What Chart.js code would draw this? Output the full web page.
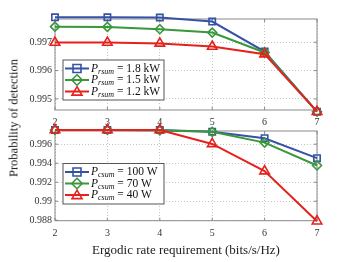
<!DOCTYPE html>
<html>
<head>
<meta charset="utf-8">
<script src="https://cdn.jsdelivr.net/npm/chart.js@4.4.1/dist/chart.umd.min.js"></script>
<style>
body { margin: 0; background: #fff; }
#wrap { position: relative; width: 349px; height: 262px; font-family: 'Liberation Serif', serif; }
canvas { position: absolute; left: 0; }
#ylab { position: absolute; left: 14px; top: 118px; transform: translate(-50%, -50%) rotate(-90deg);
        white-space: nowrap; font-size: 12.5px; color: #222; }
</style>
</head>
<body>
<div id="wrap">
  <canvas id="topCanvas" width="349" height="130" style="top:0"></canvas>
  <canvas id="botCanvas" width="349" height="142" style="top:120px"></canvas>
  <div id="ylab">Probability of detection</div>
</div>
<script>
// rate requirement (bits/s/Hz)
const rates = [2, 3, 4, 5, 6, 7];

// upper panel: P_rsum
const pr18 = [0.99788, 0.99788, 0.99787, 0.99773, 0.99667, 0.99455];
const pr15 = [0.99755, 0.99754, 0.99746, 0.99734, 0.99664, 0.99455];
const pr12 = [0.99699, 0.99699, 0.99696, 0.99685, 0.99658, 0.99455];

// lower panel: P_csum
const pc100 = [0.9975, 0.9975, 0.9975, 0.99732, 0.99663, 0.99453];
const pc70  = [0.9975, 0.9975, 0.99745, 0.9973, 0.99617, 0.99376];
const pc40  = [0.9975, 0.9975, 0.9975, 0.99603, 0.99317, 0.9879];

const xTicks = [2, 3, 4, 5, 6, 7];
const topYTicks = [0.995, 0.996, 0.997];
const botYTicks = [0.988, 0.99, 0.992, 0.994, 0.996];

const BLUE = '#3552a8', GREEN = '#3a973a', RED = '#e6211c';
const FONT = "'Liberation Serif', serif";

function marker(ctx, style, x, y, r) {
  ctx.beginPath();
  if (style === 'rect') {
    ctx.rect(x - r, y - r, 2 * r, 2 * r);
  } else if (style === 'rectRot') {
    ctx.moveTo(x, y - r * 1.3); ctx.lineTo(x + r * 1.3, y);
    ctx.lineTo(x, y + r * 1.3); ctx.lineTo(x - r * 1.3, y); ctx.closePath();
  } else {
    ctx.moveTo(x, y - r * 1.2); ctx.lineTo(x + r * 1.25, y + r * 0.9);
    ctx.lineTo(x - r * 1.25, y + r * 0.9); ctx.closePath();
  }
  ctx.stroke();
}

const framePlugin = {
  id: 'frame',
  beforeDatasetsDraw(chart) {
    const { ctx, chartArea: a, scales } = chart;
    ctx.save();
    ctx.strokeStyle = '#8a8a8a';
    ctx.lineWidth = 1;
    ctx.strokeRect(a.left, a.top, a.right - a.left, a.bottom - a.top);
    ctx.beginPath();
    scales.x.ticks.forEach(t => {
      const px = scales.x.getPixelForValue(t.value);
      ctx.moveTo(px, a.bottom); ctx.lineTo(px, a.bottom - 3);
      ctx.moveTo(px, a.top); ctx.lineTo(px, a.top + 3);
    });
    scales.y.ticks.forEach(t => {
      const py = scales.y.getPixelForValue(t.value);
      ctx.moveTo(a.left, py); ctx.lineTo(a.left + 3, py);
      ctx.moveTo(a.right, py); ctx.lineTo(a.right - 3, py);
    });
    ctx.stroke();
    ctx.restore();
  },
  afterDraw(chart, args, opts) {
    if (!opts.items) return;
    const ctx = chart.ctx;
    ctx.save();
    ctx.fillStyle = '#fff';
    ctx.fillRect(opts.x, opts.y, opts.w, opts.h);
    ctx.strokeStyle = '#555';
    ctx.lineWidth = 1;
    ctx.strokeRect(opts.x, opts.y, opts.w, opts.h);
    opts.items.forEach((it, i) => {
      const cy = opts.y + 8.5 + i * 11.5;
      ctx.strokeStyle = it.color;
      ctx.lineWidth = 2;
      ctx.beginPath();
      ctx.moveTo(opts.x + 2, cy); ctx.lineTo(opts.x + 26, cy);
      ctx.stroke();
      ctx.lineWidth = 1.6;
      marker(ctx, it.style, opts.x + 14, cy, 4);
      ctx.fillStyle = '#111';
      ctx.textBaseline = 'middle';
      let tx = opts.x + 28;
      ctx.font = 'italic 11.5px ' + FONT;
      ctx.fillText('P', tx, cy);
      tx += ctx.measureText('P').width;
      ctx.font = 'italic 8px ' + FONT;
      ctx.fillText(it.sub, tx, cy + 3);
      tx += ctx.measureText(it.sub).width;
      ctx.font = '11.5px ' + FONT;
      ctx.fillText(' = ' + it.value, tx, cy);
    });
    ctx.restore();
  }
};

function series(label, vals, color, style, order) {
  return {
    label: label,
    data: rates.map((r, i) => ({ x: r, y: vals[i] })),
    borderColor: color,
    backgroundColor: 'rgba(0,0,0,0)',
    borderWidth: 2,
    pointStyle: style,
    pointRadius: style === 'triangle' ? 5.5 : 4.5,
    pointBorderWidth: 1.6,
    pointBackgroundColor: 'rgba(0,0,0,0)',
    clip: false,
    order: order
  };
}

function axisOpts(ticksArr, extra) {
  return Object.assign({
    type: 'linear',
    afterBuildTicks: s => { s.ticks = ticksArr.map(v => ({ value: v })); },
    grid: { color: '#c4c4c4', drawTicks: false, lineWidth: 1 },
    border: { display: false, dash: [1, 2] },
    ticks: { color: '#333', font: { family: FONT, size: 10 } }
  }, extra);
}

const yFmt = v => String(+v.toFixed(3));

new Chart(document.getElementById('topCanvas'), {
  type: 'line',
  data: {
    datasets: [
      series('P_rsum = 1.8 kW', pr18, BLUE, 'rect', 2),
      series('P_rsum = 1.5 kW', pr15, GREEN, 'rectRot', 1),
      series('P_rsum = 1.2 kW', pr12, RED, 'triangle', 0)
    ]
  },
  options: {
    responsive: false,
    animation: false,
    layout: { padding: { left: 0, right: 32, top: 19, bottom: 0 } },
    plugins: {
      legend: { display: false },
      tooltip: { enabled: false },
      frame: {
        x: 63, y: 60, w: 101, h: 40,
        items: [
          { sub: 'rsum', value: '1.8 kW', color: BLUE, style: 'rect' },
          { sub: 'rsum', value: '1.5 kW', color: GREEN, style: 'rectRot' },
          { sub: 'rsum', value: '1.2 kW', color: RED, style: 'triangle' }
        ]
      }
    },
    scales: {
      x: axisOpts(xTicks, {
        min: 2, max: 7,
        afterFit: s => { s.height = 20; }
      }),
      y: axisOpts(topYTicks, {
        min: 0.99461, max: 0.99782,
        afterFit: s => { s.width = 55; }
      })
    }
  },
  plugins: [framePlugin]
});
Chart.getChart('topCanvas').options.scales.y.ticks.callback = yFmt;
Chart.getChart('topCanvas').options.scales.x.ticks.padding = 6;
Chart.getChart('topCanvas').update();

new Chart(document.getElementById('botCanvas'), {
  type: 'line',
  data: {
    datasets: [
      series('P_csum = 100 W', pc100, BLUE, 'rect', 2),
      series('P_csum = 70 W', pc70, GREEN, 'rectRot', 1),
      series('P_csum = 40 W', pc40, RED, 'triangle', 0)
    ]
  },
  options: {
    responsive: false,
    animation: false,
    layout: { padding: { left: 0, right: 32, top: 11, bottom: 0 } },
    plugins: {
      legend: { display: false },
      tooltip: { enabled: false },
      frame: {
        x: 63, y: 43.5, w: 101, h: 40.5,
        items: [
          { sub: 'csum', value: '100 W', color: BLUE, style: 'rect' },
          { sub: 'csum', value: '70 W', color: GREEN, style: 'rectRot' },
          { sub: 'csum', value: '40 W', color: RED, style: 'triangle' }
        ]
      }
    },
    scales: {
      x: axisOpts(xTicks, {
        min: 2, max: 7,
        title: { display: true, text: 'Ergodic rate requirement (bits/s/Hz)', color: '#222',
                 font: { family: FONT, size: 13 }, padding: { top: 2, bottom: 4 } },
        afterFit: s => { s.height = 41.3; }
      }),
      y: axisOpts(botYTicks, {
        min: 0.98795, max: 0.99739,
        afterFit: s => { s.width = 55; }
      })
    }
  },
  plugins: [framePlugin]
});
Chart.getChart('botCanvas').options.scales.y.ticks.callback = yFmt;
Chart.getChart('botCanvas').options.scales.x.ticks.padding = 7;
Chart.getChart('botCanvas').update();
</script>
</body>
</html>
